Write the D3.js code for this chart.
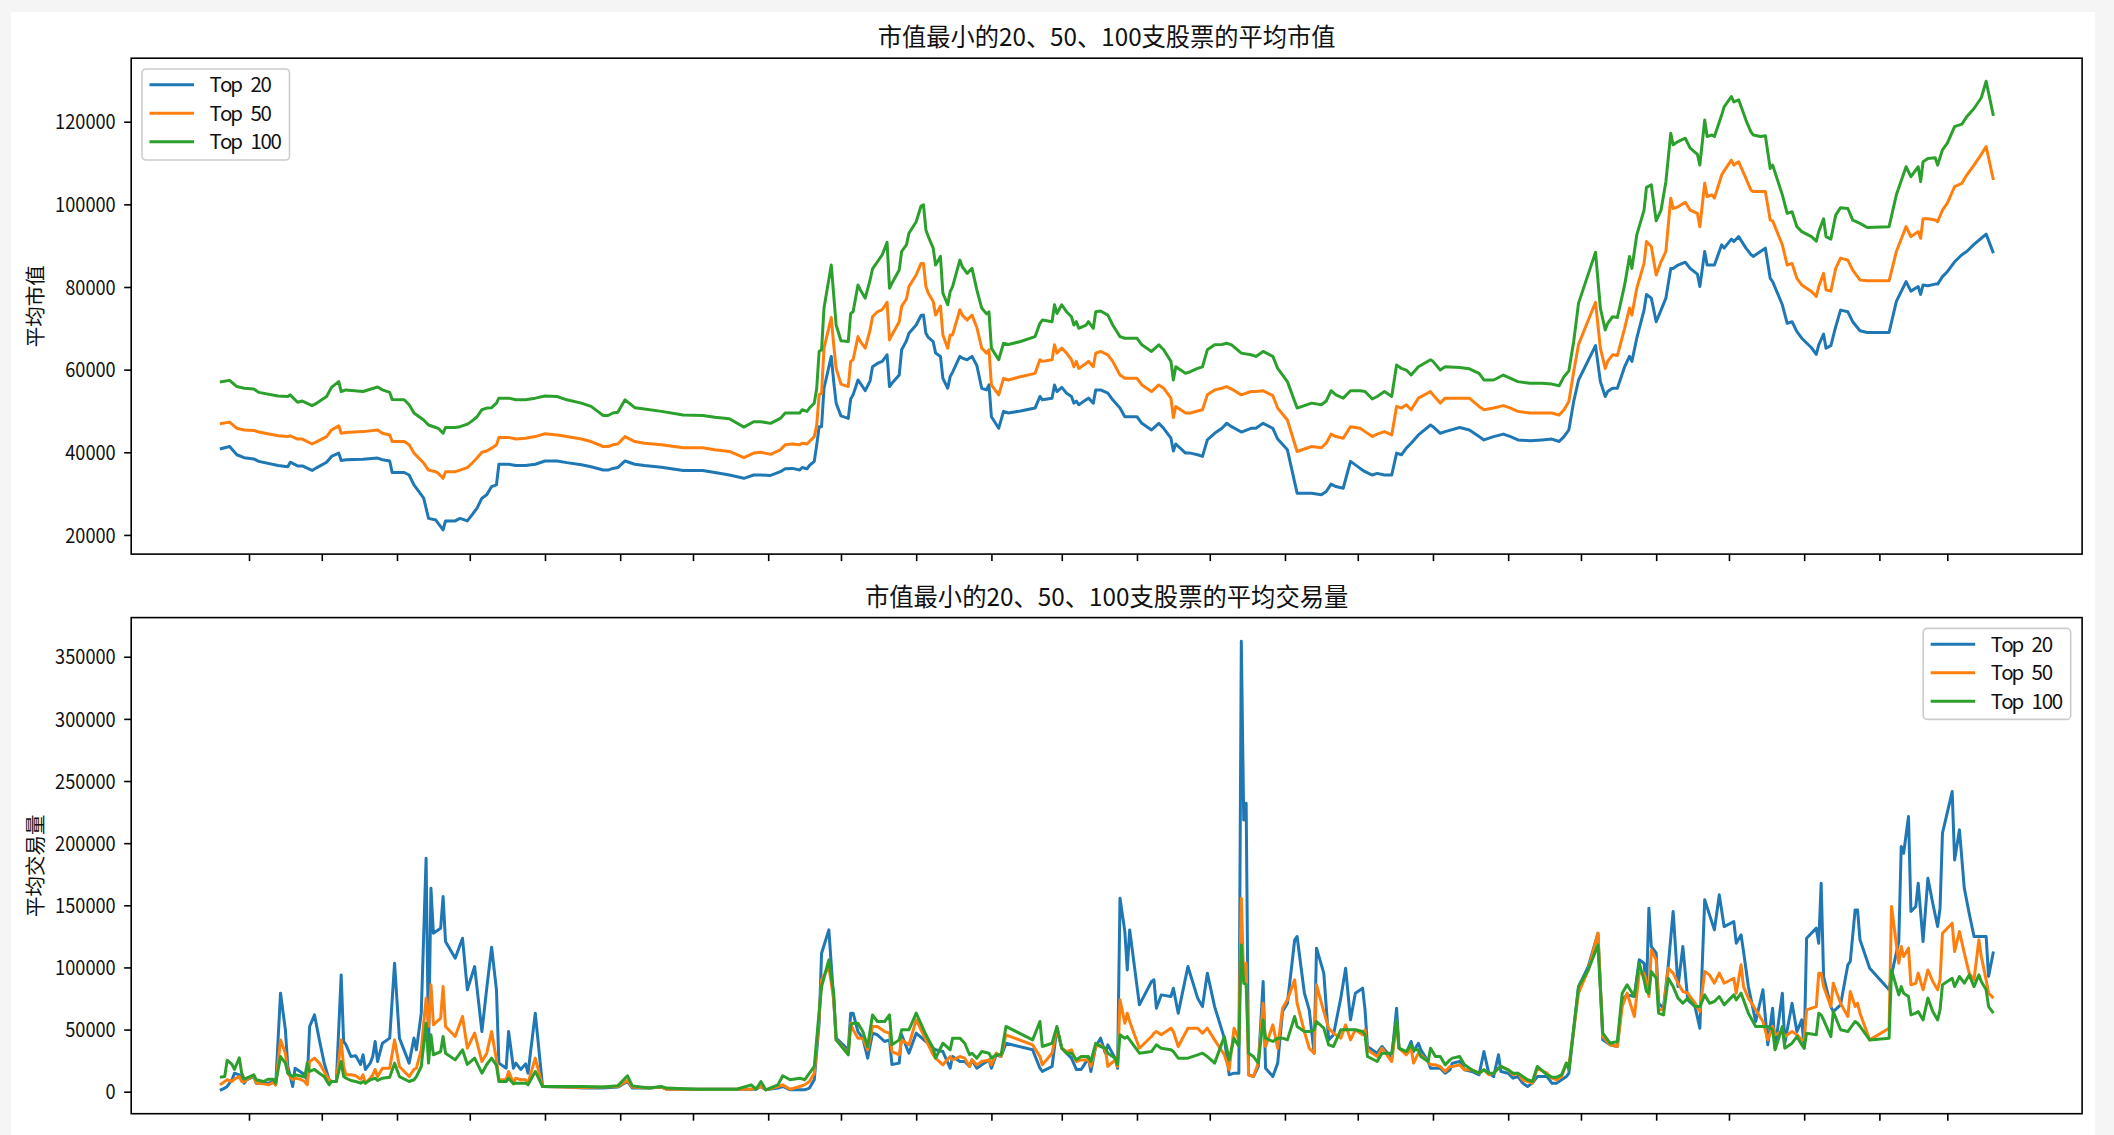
<!DOCTYPE html>
<html><head><meta charset="utf-8">
<script src="https://cdn.jsdelivr.net/npm/d3@7"></script>
<style>
html,body{margin:0;padding:0;background:#f5f5f5;}
svg{display:block;}
text{font-family:"Noto Sans CJK SC","Noto Sans",sans-serif;fill:#111;}
</style></head><body>
<svg id="chart" width="2114" height="1135"></svg>
<script>
// ---------------- data ----------------
const startDate = Date.UTC(2019, 2, 20);           // first trading day in the data
const seriesNames = ["Top 20", "Top 50", "Top 100"];
const titles = ["市值最小的20、50、100支股票的平均市值", "市值最小的20、50、100支股票的平均交易量"];
const yLabels = ["平均市值", "平均交易量"];
const mcTicks = [20000, 40000, 60000, 80000, 100000, 120000];
const volTicks = [0, 50000, 100000, 150000, 200000, 250000, 300000, 350000];

// market value panel: day offsets from startDate
const mcDays = [0,4,7,10,14,16,24,28,29,32,34,38,40,44,46,49,50,52,59,65,67,70,71,76,78,80,84,86,89,90,92,93,97,99,102,104,106,108,110,112,114,115,119,122,126,130,134,139,143,149,153,158,160,162,164,167,171,175,182,191,199,204,210,216,220,223,227,231,233,236,
239,240,242,243,245,246,247,248,249,252,253,254,256,259,260,261,263,264,266,268,269,271,273,275,276,277,280,281,283,284,287,289,290,291,292,294,295,297,298,300,301,302,305,306,308,310,312,314,316,317,318,321,323,325,330,336,338,339,343,344,345,347,349,351,352,353,354,357,358,360,361,363,366,368,371,373,378,380,384,387,389,392,393,394,398,400,403,405,407,410,413,415,417,421,425,427,430,434,436,440,444,450,454,456,458,460,463,466,470,472,475,477,480,483,
485,487,489,491,494,499,500,503,505,511,515,519,521,525,529,532,535,540,545,549,552,554,556,558,560,567,569,571,572,574,576,579,581,582,584,587,588,590,592,594,596,598,599,601,604,606,609,610,612,613,615,616,619,620,623,624,626,629,631,632,635,637,639,640,644,646,648,650,652,656,658,659,661,662,664,666,668,671,673,676,679,688,691,695,697,700,701,702,704,707,708,710,712,715,718,720,723,726,728,731];
const mcTop20 = [40800,41400,39400,38700,38400,37800,36800,36500,37600,36700,36700,35600,36300,37600,39000,39800,38000,38200,38300,38600,38200,37900,35100,35100,34500,32100,28900,24000,23600,22800,21200,23400,23400,24000,23400,24900,26500,28900,29700,31700,32100,37100,37100,36800,36800,37100,37900,37900,37500,37000,36500,35700,35700,36100,36300,37900,37100,36800,36400,35600,35600,35100,34500,33700,34500,34500,34400,35300,36000,36100,
35700,36300,36000,36800,37800,41800,46200,46200,55500,63200,57100,51900,48800,48200,52900,53900,57500,56700,54900,57300,60700,61500,62000,63600,55900,56700,58700,64800,67000,68800,70800,73100,73200,68800,67800,66800,64000,63200,57900,55500,58300,59400,63200,62800,62400,63200,61000,55500,55100,56300,48600,45800,49900,49500,50000,50700,53500,52700,53100,56300,54700,55700,54300,53500,51900,52400,51500,52700,53100,51900,55100,55100,54300,52700,50700,48600,48600,47000,45400,47000,45800,43400,40300,42000,39800,39800,39400,39000,43000,44600,45800,47000,46200,44900,45800,45800,47000,45800,43200,40600,30100,30100,29700,30500,32300,31700,31300,37800,36100,35300,34500,34900,34500,34500,
39800,39400,41000,42200,44200,46600,46200,44600,45000,46000,45400,43800,43000,43800,44400,43800,43000,42800,43000,43200,42600,43800,45400,52300,57500,65800,57100,53500,54700,55500,55500,60700,63200,62000,67600,74400,78200,77300,71600,74400,77300,84500,84500,85300,86000,84500,83100,80100,88600,85300,85300,85300,90200,89400,91600,91000,92200,89400,87900,87400,88600,89400,82100,81300,75700,71200,71600,69200,67600,65300,63700,66000,68600,65200,65800,70400,74400,74000,71600,69400,69000,69000,76500,81300,79000,80100,78200,80500,80300,80700,80700,82500,83700,86100,87800,88600,90300,91800,92800,88200];
const mcTop50 = [46900,47300,45800,45400,45300,44900,44000,43800,44000,43200,43200,42000,42600,43800,45400,46400,44600,44800,45000,45400,44600,44200,42600,42600,41800,39800,37400,35700,35300,34900,33700,35300,35300,35700,36300,37400,38600,40000,40300,41000,41800,43600,43600,43200,43400,43800,44500,44200,43800,43200,42600,41400,41400,41800,42000,43800,42600,42200,41800,41100,41100,40600,40200,38700,39800,40000,39500,40600,41800,42000,
41800,42200,42000,42600,43800,46600,53900,54300,65200,72600,66000,60300,56500,55900,62000,62400,68000,66800,65200,69600,72800,74000,74500,76300,67200,68400,71600,75300,77100,80100,82900,85700,85700,80100,78500,76500,73200,75400,68400,65200,68400,68400,74500,73200,72000,73200,70200,65200,64000,64800,56300,53900,57900,57500,58300,59100,62400,62000,62400,66000,64000,65200,64000,62400,60700,62000,60300,61500,62000,60700,64000,64400,63600,62000,58700,57900,57900,56300,54700,56300,55500,53100,48400,51100,49500,49500,50000,50300,53900,55100,55500,55900,55300,53900,54700,54700,54900,53700,50700,47800,40200,41400,41100,42200,44400,43800,43400,46200,45800,45000,43800,44400,45000,44200,
51100,50700,51500,50300,53100,54700,53900,51900,53100,53100,53100,51100,50300,50700,51300,50700,49900,49500,49500,49500,49000,50300,52300,59500,66100,76300,65200,60300,62000,63600,63400,70000,74900,73200,79700,85700,91000,89800,82900,86100,88600,101500,99000,99400,100500,98600,97800,94600,105100,101900,102300,101500,107100,108100,110700,109500,110300,106300,103500,103100,103100,103100,96200,96000,90200,85300,85700,82100,80500,78900,77700,80100,83300,79300,79000,84500,87000,86500,84100,81700,81500,81500,88600,94600,92200,93400,91800,96500,96500,96200,95800,98600,100300,104300,105100,107100,109500,112100,114000,105900];
const mcTop100 = [57000,57400,55900,55500,55300,54500,53600,53500,53900,52100,52400,51300,51900,53500,55700,57100,54700,55100,54700,55800,55100,54500,52800,52700,51500,49500,47800,46600,46000,45800,44600,46000,46000,46200,46800,47600,48600,50300,50700,50800,51900,53100,53100,52700,52700,53100,53600,53500,52700,51900,51100,48900,48900,49500,49700,52700,50800,50500,49900,49000,48900,48500,48100,46100,47400,47400,47000,48200,49500,49500,
49500,50300,49900,50700,51900,55500,64400,64800,74900,85300,78100,70800,67000,66800,73600,74000,80500,79300,77300,81700,84400,86100,87800,90800,79700,80900,84100,88600,90200,93000,95800,99600,99900,93800,92200,89400,85300,87400,78500,75700,78900,80100,86500,84900,83300,84500,79300,74900,73500,74000,65200,62400,66400,66100,66800,68000,71200,72000,71600,75700,73600,75700,74000,72800,70800,71600,70000,70800,71600,70000,74000,74200,73200,70800,68000,67600,67600,66000,64400,66000,64800,62000,57500,60700,59100,59500,60300,60700,64800,66000,66100,66400,66000,64000,63600,63200,64400,63200,60300,57100,50700,51900,51500,52400,54900,53900,53100,54900,54900,54700,52900,53500,54700,53500,
61100,60300,59900,58700,60700,62400,62000,59900,60700,60500,60200,59100,57500,57500,58700,57900,57100,56700,56700,56500,56100,58300,59700,66800,76100,88400,74900,69600,71200,72800,72600,80500,87400,84500,92600,98600,104100,104700,96000,98600,105500,117200,114400,115200,116000,113600,112100,109500,120400,116400,116800,116400,121600,123600,126100,124800,125300,120400,117600,116800,116400,116600,108700,109500,102300,97800,98200,94600,93400,92200,91100,93400,96500,92200,91600,97400,99200,99000,96200,95400,94400,94600,102300,109100,106700,109100,105500,110300,111100,111300,109500,113200,114800,118800,119400,121200,123200,125800,129800,121400];

// trading volume panel: day offsets from startDate
const volDays = [0,2,3,5,6,8,9,10,11,14,15,18,20,22,23,25,27,28,30,31,33,35,36,37,39,41,43,45,46,48,50,51,52,54,56,58,59,60,62,63,64,65,67,70,72,74,78,80,81,83,85,86,87,88,91,92,93,97,100,102,105,108,110,112,114,115,118,119,121,122,124,126,127,130,133,142,150,158,164,168,170,177,182,184,197,213,219,221,223,225,230,232,
235,239,241,243,245,247,248,251,253,254,259,260,261,263,265,267,269,271,274,276,277,280,281,284,287,291,294,295,298,301,302,305,307,309,310,312,314,317,318,320,322,324,335,338,339,343,345,347,349,351,353,355,358,359,361,363,365,366,369,370,371,373,374,375,379,384,385,386,388,392,393,395,399,403,405,407,410,414,416,418,420,421,422,423,424,426,428,430,431,434,436,438,440,443,444,447,449,451,452,455,457,459,462,464,466,468,471,472,473,477,479,
483,485,486,489,491,492,494,495,498,499,501,503,505,507,508,511,513,516,519,521,523,525,527,528,531,533,535,537,539,541,543,547,549,551,553,555,556,560,564,568,570,573,576,578,580,583,585,587,588,589,590,592,593,595,597,599,601,603,605,608,610,612,614,616,618,620,624,625,627,628,630,633,636,638,640,641,644,645,648,650,652,653,654,658,659,660,661,664,665,668,671,672,674,675,676,680,688,689,692,693,694,696,697,699,700,702,704,706,708,709,710,714,715,717,719,721,723,725,726,728,729,731];
const volTop20 = [1000,2900,4200,9600,14900,13600,10900,6900,9600,12200,6900,6900,6900,8200,5500,79300,49800,20300,4200,18900,16300,13600,9600,52500,61800,41700,23000,9600,8200,8200,94000,40400,37700,28300,28900,21900,29700,17900,23000,28300,40400,24300,39000,43100,103400,43100,23000,43100,33700,63200,187900,33700,163700,127500,131600,157000,120800,107400,123500,82000,100700,48400,83300,116300,82000,23000,18900,48400,18900,23000,17900,22400,14900,63200,4200,3700,2900,2900,3700,8200,2900,2900,3700,2000,2000,2000,2000,2000,4200,1500,2900,4200,
1500,1500,1500,2900,9600,55100,111400,130200,73900,43100,33700,63200,63200,48400,43100,27000,47100,45800,40400,41700,21900,23000,45800,31000,47100,40400,35000,33700,32300,18900,28300,24300,24300,20300,25600,18900,21600,25600,18900,29700,28300,39000,33700,18900,16300,20300,51100,35000,31000,27000,17900,17900,27000,16300,36400,43100,31000,37700,27000,18900,155700,128900,98000,130200,69900,88700,90000,67200,77900,76600,83300,63200,100700,75300,68500,95400,68500,43100,13600,14900,14900,362500,218700,232100,13600,12200,20300,88700,18900,12200,23000,64500,71200,122200,124900,79300,65900,31000,115500,95400,41700,45800,75300,99400,57800,79300,83300,65900,36400,31000,36400,
27000,67200,35000,31000,40400,32300,39000,33700,24300,18900,18900,18900,14900,17600,23000,24300,17600,16300,13600,32300,14900,12200,29700,16300,14900,10900,12200,6900,4200,6900,12200,12200,6900,6900,9600,12200,14900,84600,100700,127500,41700,37700,36400,73900,77900,76600,106100,103400,82000,147700,116800,111500,71200,67200,102100,145000,84600,116800,73900,68500,51100,154400,142300,130200,158400,132900,136900,119500,126200,112800,84600,56500,82000,37700,67200,35000,79300,39000,71200,48400,57800,35000,123500,131600,119500,167800,92700,68500,64500,69900,102100,104800,146300,146300,122200,99400,82000,94000,120800,197300,191900,221400,145000,149000,167800,120800,171800,151700,132900,147700,208000,241500,186500,210700,163700,143600,124900,124900,124900,124900,92700,112800];
const volTop50 = [5500,8200,9600,8200,10100,12200,8200,8200,9600,12800,6900,6300,5500,7400,5500,41700,31000,14900,9600,10900,10100,8200,5500,24300,27000,23000,16300,9600,8200,8200,41700,20300,13600,13600,12800,10100,13600,6900,10900,13600,17900,12200,18900,18900,41700,20300,12200,17900,18900,33700,75300,52500,86000,53800,59200,84600,52500,44400,60500,35000,47100,24300,31000,48400,25600,9600,9600,16300,6900,10900,9600,9600,6900,27000,4200,3700,3400,3700,4200,9000,3700,2900,3700,2000,2000,2000,2000,2900,4200,1500,4200,5500,
2000,4200,5500,8200,14900,60500,90000,100700,73900,41700,31000,55100,49800,43100,43100,33700,52500,52500,48400,47100,32300,29700,41700,37700,57800,41700,29700,27000,21600,28300,25600,28300,27000,20300,25600,21600,24300,25600,21600,31000,28300,45800,37700,28300,21600,31000,51100,35000,32300,33700,24300,25600,25600,20300,36400,37700,33700,20300,25600,20300,73900,55100,63200,56500,35000,44400,47100,48400,45800,51100,48400,36400,51100,51100,47100,51100,41700,29700,17600,51100,41700,155700,90000,103400,13600,12200,23000,71200,36400,53800,35000,67200,73900,90000,71200,48400,35000,31000,86000,64500,51100,47100,43100,53800,41700,49800,45800,49800,33700,28300,35000,
24300,55100,35000,29700,35000,23000,31000,29700,24300,21600,21600,20300,16300,20300,20300,21600,17600,17600,14900,17600,13600,14900,18900,20300,17600,13600,14900,9600,8200,6900,18900,14900,10900,9600,12200,23000,20300,79300,98000,127500,44400,37700,36400,68500,79300,60500,95400,95400,88700,76600,114100,106100,65900,65900,99400,95400,87300,80600,79300,71200,64500,96700,94000,87300,95400,87300,91300,79300,102100,84600,75300,65900,56500,41700,52500,45800,48400,44400,48400,45800,41700,41700,65900,68500,95400,95400,84600,68500,87300,71200,60500,80600,68500,71200,63200,41700,51100,149000,103400,116800,108800,115500,86000,87300,95400,82000,98000,88700,82000,90000,127500,135600,112800,128900,111500,95400,90000,122200,108800,90000,79300,75300];
const volTop100 = [11700,12200,25400,21900,17900,27300,14900,10100,10900,13600,9600,8200,10100,10100,6900,28300,23000,14900,12200,13600,12800,11700,23000,16300,17900,14900,12200,5500,8200,8200,24300,12200,10900,9000,8200,6900,8200,6900,9600,10100,10900,9000,10900,11700,23000,12200,8200,9600,12200,20300,55100,23000,45800,29700,32300,44400,31000,25600,33700,21900,27000,14900,21900,27000,21100,8200,8200,10900,6300,6900,6900,6900,5500,16300,4200,4200,4200,3700,4700,12800,4700,2900,4200,2900,2000,2000,5500,2000,8200,1500,5500,12800,
9600,10900,9600,14900,20300,64500,84600,106100,79300,41700,29700,53800,55100,55100,48400,36400,61800,56500,56500,61800,37700,41700,49800,49800,63200,45800,35000,27000,39000,33700,43100,43100,39000,29700,31000,27000,32300,31000,27000,29700,29700,52500,41700,56500,36400,39000,52500,35000,31000,31000,25600,28300,28300,24300,39000,36400,35000,31000,27000,21900,45800,43100,44400,41700,31000,32300,35000,37700,35000,33700,32300,27000,27000,29700,31000,28300,23000,44400,25600,43100,36400,118100,87300,86000,31000,28300,23000,57800,43100,40400,43100,43100,41700,60500,52500,48400,48400,49800,56500,51100,37700,36400,49800,49800,49800,49800,48400,45800,28300,24300,31000,
31000,57800,35000,32300,37700,33700,33700,28300,24300,35000,28300,28300,21600,25600,27000,28300,21600,17600,14900,17600,14900,14900,18900,20300,17600,14900,14900,12200,9600,8200,20300,13600,11700,11700,13600,23000,17600,84600,98000,118100,47100,39000,40400,79300,86000,76600,103400,90000,80600,79300,96700,91300,63200,61800,91300,84600,75300,71200,75300,68500,68500,77900,71200,72600,76600,69900,77900,73900,79300,73900,63200,52500,52500,52500,49800,33700,52500,35000,39000,44400,37700,35000,47100,45800,63200,61800,57800,44400,64500,49800,48400,51100,56500,55100,52500,41700,43100,98000,77900,84600,79300,76600,61800,63200,64500,57800,75300,64500,57800,65900,86000,91300,84600,92700,87300,94000,84600,94000,88700,82000,68500,63200];

// ---------------- drawing ----------------
const colors = ["#1f77b4", "#ff7f0e", "#2ca02c"];
const W = 2114, H = 1135;
const svg = d3.select("#chart");
svg.append("rect").attr("x", 0).attr("y", 0).attr("width", W).attr("height", H).attr("fill", "#f5f5f5");
svg.append("rect").attr("x", 11).attr("y", 12).attr("width", 2084).attr("height", H - 12).attr("fill", "#ffffff");

const dayToDate = d => new Date(startDate + d * 86400000);
const axL = 131.2, axR = 2082.1;
const firstDay = 0, lastDay = 731;
const padDays = (lastDay - firstDay) * 0.05;
const x = d3.scaleUtc()
  .domain([dayToDate(firstDay - padDays), dayToDate(lastDay + padDays)])
  .range([axL, axR]);
const monthTicks = d3.utcMonth.range(dayToDate(firstDay), dayToDate(lastDay));
const halfW = 10.1;   // half-width glyph advance used for latin text

function checkLen(name, a, b) { if (a.length !== b.length) console.error(name, a.length, b.length); }

function drawPanel(cfg) {
  const g = svg.append("g");
  const y = d3.scaleLinear().domain(cfg.yDomain).range([cfg.bottom, cfg.top]);
  const clipId = "clip" + cfg.id;
  svg.append("defs").append("clipPath").attr("id", clipId)
    .append("rect").attr("x", axL).attr("y", cfg.top).attr("width", axR - axL).attr("height", cfg.bottom - cfg.top);

  // lines
  const line = d3.line().x(d => x(dayToDate(d[0]))).y(d => y(d[1]));
  cfg.series.forEach((s, i) => {
    checkLen(cfg.id + i, cfg.days, s);
    const pts = cfg.days.map((d, k) => [d, s[k]]);
    g.append("path").datum(pts)
      .attr("clip-path", `url(#${clipId})`)
      .attr("fill", "none").attr("stroke", colors[i]).attr("stroke-width", 3)
      .attr("stroke-linejoin", "round").attr("stroke-linecap", "butt")
      .attr("d", line);
  });

  // x axis (ticks only)
  const xa = g.append("g").attr("transform", `translate(0,${cfg.bottom})`)
    .call(d3.axisBottom(x).tickValues(monthTicks).tickFormat("").tickSize(7).tickSizeOuter(0));
  xa.select(".domain").remove();
  xa.selectAll(".tick line").attr("stroke", "#000").attr("stroke-width", 1.6);

  // y axis
  const ya = g.append("g").attr("transform", `translate(${axL},0)`)
    .call(d3.axisLeft(y).tickValues(cfg.yTicks).tickFormat(d3.format("d")).tickSize(7).tickPadding(7));
  ya.select(".domain").remove();
  ya.selectAll(".tick line").attr("stroke", "#000").attr("stroke-width", 1.6);
  ya.selectAll(".tick text")
    .attr("font-family", '"Noto Sans CJK SC", sans-serif')
    .attr("font-size", 20.5).attr("fill", "#111")
    .attr("x", -15.5).attr("dy", "0.35em")
    .each(function(d) {
      const s = d3.format("d")(d);
      d3.select(this).attr("textLength", s.length * halfW).attr("lengthAdjust", "spacingAndGlyphs");
    });

  // frame
  g.append("rect").attr("x", axL).attr("y", cfg.top).attr("width", axR - axL).attr("height", cfg.bottom - cfg.top)
    .attr("fill", "none").attr("stroke", "#000").attr("stroke-width", 1.6);

  // title
  g.append("text").attr("x", (axL + axR) / 2).attr("y", cfg.top - 12)
    .attr("text-anchor", "middle").attr("font-size", 24.6)
    .attr("textLength", cfg.titleLen).attr("lengthAdjust", "spacingAndGlyphs")
    .text(cfg.title);

  // y label
  const cy = (cfg.top + cfg.bottom) / 2;
  g.append("text").attr("transform", `translate(43,${cy}) rotate(-90)`)
    .attr("text-anchor", "middle").attr("font-size", 20.5)
    .text(cfg.ylabel);

  // legend
  const lw = 147.5, lh = 91;
  const lx = cfg.legend === "left" ? axL + 10.8 : axR - 11.4 - lw;
  const ly = cfg.top + 10.8;
  const lg = g.append("g").attr("transform", `translate(${lx},${ly})`);
  lg.append("rect").attr("width", lw).attr("height", lh).attr("rx", 4).attr("ry", 4)
    .attr("fill", "#fff").attr("fill-opacity", 0.8).attr("stroke", "#cccccc").attr("stroke-width", 1.6);
  const rows = [15.8, 44.3, 72.8];
  seriesNames.forEach((n, i) => {
    lg.append("line").attr("x1", 7.5).attr("x2", 52).attr("y1", rows[i]).attr("y2", rows[i])
      .attr("stroke", colors[i]).attr("stroke-width", 3);
    // each character placed on a half-width grid (like the original CJK font)
    const xs = Array.from(n, (c, k) => (67.5 + k * halfW + (c === "T" ? 0 : 0.5)).toFixed(1)).join(" ");
    lg.append("text").attr("x", xs).attr("y", rows[i]).attr("dy", "0.36em")
      .attr("font-size", 20.5)
      .text(n);
  });
}

drawPanel({
  id: "mc", top: 58.2, bottom: 554.1, yDomain: [15360, 135370], yTicks: mcTicks,
  days: mcDays, series: [mcTop20, mcTop50, mcTop100],
  title: titles[0], titleLen: 457.6, ylabel: yLabels[0], legend: "left"
});
drawPanel({
  id: "vol", top: 617.6, bottom: 1113.7, yDomain: [-17700, 381500], yTicks: volTicks,
  days: volDays, series: [volTop20, volTop50, volTop100],
  title: titles[1], titleLen: 483.5, ylabel: yLabels[1], legend: "right"
});
</script>
</body></html>
